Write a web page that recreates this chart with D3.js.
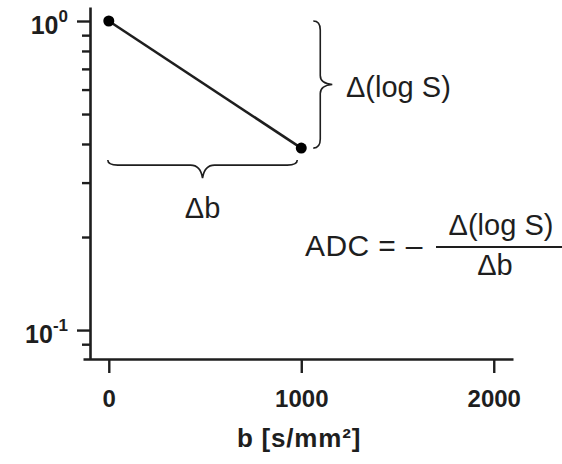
<!DOCTYPE html>
<html>
<head>
<meta charset="utf-8">
<script src="https://cdn.jsdelivr.net/npm/d3@7"></script>
<style>
  html, body { margin: 0; padding: 0; background: #fff; }
  svg { display: block; font-family: "Liberation Sans", Arial, Helvetica, sans-serif; }
</style>
</head>
<body>
<svg id="chart" width="562" height="464"></svg>
<script>
// ---- data ----
const bValues = [0, 1000];            // b [s/mm²]
const signal  = [1, 0.388];           // S (normalised)
const xTicks  = [0, 1000, 2000];
const yMajorTicks = [0.1, 1];
const yMinorTicks = [0.09, 0.2, 0.3, 0.4, 0.5, 0.6, 0.7, 0.8, 0.9];
const yTickExponents = ["-1", "0"];
const xTitle = "b [s/mm²]";
const braceLabelY = "Δ(log S)";
const braceLabelX = "Δb";
const formulaLeft = "ADC =";
const formulaSign = "–";
const formulaNum = "Δ(log S)";
const formulaDen = "Δb";

// ---- layout ----
const ink = "#1e1e1e";
const svg = d3.select("#chart");
const x = d3.scaleLinear().domain([-134, 2100]).range([83, 513]);
const y = d3.scaleLog().domain([0.0806, 1.11]).range([359, 7]);
const yAxisX = 90;

// x axis
const gx = svg.append("g").attr("transform", `translate(0,${y.range()[0]})`)
  .call(d3.axisBottom(x).tickValues(xTicks).tickFormat(d3.format("d"))
    .tickSize(14).tickSizeOuter(0).tickPadding(17));
gx.select(".domain").attr("stroke", ink).attr("stroke-width", 2.6);
gx.selectAll(".tick line").attr("stroke", ink).attr("stroke-width", 2.4);
gx.selectAll(".tick text").attr("fill", ink).attr("font-size", 24).attr("font-weight", "bold")
  .attr("font-family", "Liberation Sans, Arial, sans-serif");

// y axis
const gy = svg.append("g").attr("transform", `translate(${yAxisX},0)`)
  .call(d3.axisLeft(y).tickValues(yMinorTicks.concat(yMajorTicks)).tickSize(8).tickSizeOuter(0).tickFormat(""));
gy.select(".domain").attr("stroke", ink).attr("stroke-width", 2.6);
gy.selectAll(".tick line").attr("stroke", ink).attr("stroke-width", 2.4)
  .attr("x2", d => yMajorTicks.includes(d) ? -13 : -8);
gy.selectAll(".tick text").remove();
yMajorTicks.forEach((v, i) => {
  const t = svg.append("text")
    .attr("x", 68).attr("y", y(v) + 13)
    .attr("text-anchor", "end").attr("fill", ink)
    .attr("font-weight", "bold");
  t.append("tspan").attr("font-size", 25).text("10");
  t.append("tspan").attr("font-size", 17).attr("dy", -12).text(yTickExponents[i]);
});

// x title
svg.append("text").attr("x", 299).attr("y", 447).attr("text-anchor", "middle")
  .attr("fill", ink).attr("font-size", 26).attr("font-weight", "bold")
  .attr("letter-spacing", 0.8).text(xTitle);

// data line and points
const pts = bValues.map((b, i) => [x(b), y(signal[i])]);
svg.append("path").attr("d", d3.line()(pts)).attr("stroke", ink).attr("stroke-width", 2.6).attr("fill", "none");
svg.selectAll("circle.pt").data(pts).join("circle").attr("class", "pt")
  .attr("cx", d => d[0]).attr("cy", d => d[1]).attr("r", 5.5).attr("fill", "#000");

// braces
const p0 = pts[0], p1 = pts[1];
// vertical brace (points right)
{
  const bx = p1[0] + 19, y1 = p0[1], y2 = p1[1], ym = (y1 + y2) / 2, tip = 12, hook = 7;
  const d = `M${bx - hook},${y1} Q${bx},${y1} ${bx},${y1 + 9}
             L${bx},${ym - 9} Q${bx},${ym - 1} ${bx + tip},${ym}
             Q${bx},${ym + 1} ${bx},${ym + 9}
             L${bx},${y2 - 9} Q${bx},${y2} ${bx - hook},${y2}`;
  svg.append("path").attr("d", d).attr("fill", "none").attr("stroke", ink).attr("stroke-width", 1.6);
  svg.append("text").attr("x", 346).attr("y", 97).attr("fill", ink).attr("font-size", 29).text(braceLabelY);
}
// horizontal brace (points down)
{
  const by = p1[1] + 17, x1 = p0[0] - 1, x2 = p1[0] - 4, xm = (x1 + x2) / 2, tip = 13, hook = 5;
  const d = `M${x1},${by - hook} Q${x1},${by} ${x1 + 10},${by}
             L${xm - 12},${by} Q${xm - 2},${by} ${xm},${by + tip}
             Q${xm + 2},${by} ${xm + 12},${by}
             L${x2 - 10},${by} Q${x2},${by} ${x2},${by - hook}`;
  svg.append("path").attr("d", d).attr("fill", "none").attr("stroke", ink).attr("stroke-width", 1.6);
  svg.append("text").attr("x", xm).attr("y", 218).attr("text-anchor", "middle")
    .attr("fill", ink).attr("font-size", 29).text(braceLabelX);
}

// formula
svg.append("text").attr("x", 305).attr("y", 256).attr("fill", ink).attr("font-size", 30)
  .attr("letter-spacing", 0.4).text(formulaLeft);
svg.append("text").attr("x", 414).attr("y", 256).attr("text-anchor", "middle").attr("fill", ink)
  .attr("font-size", 30).text(formulaSign);
svg.append("line").attr("x1", 436).attr("x2", 562).attr("y1", 247).attr("y2", 247)
  .attr("stroke", ink).attr("stroke-width", 2.2);
svg.append("text").attr("x", 501).attr("y", 235).attr("text-anchor", "middle").attr("fill", ink)
  .attr("font-size", 29).text(formulaNum);
svg.append("text").attr("x", 495).attr("y", 275).attr("text-anchor", "middle").attr("fill", ink)
  .attr("font-size", 29).text(formulaDen);
</script>
</body>
</html>
